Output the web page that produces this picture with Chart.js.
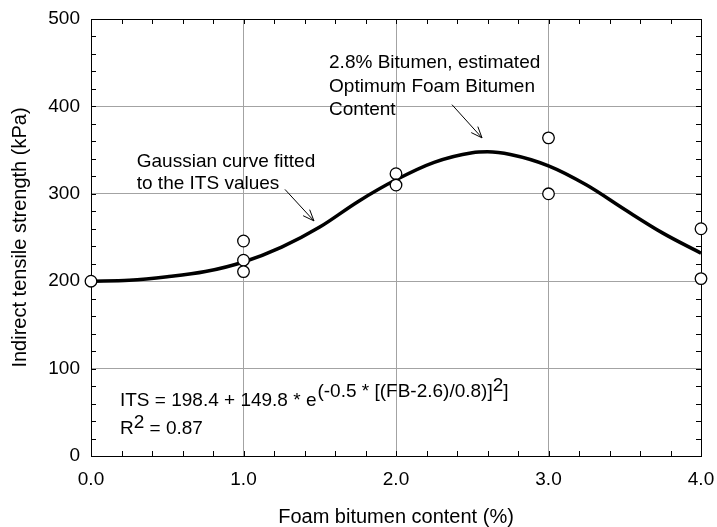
<!DOCTYPE html>
<html>
<head>
<meta charset="utf-8">
<script src="https://cdn.jsdelivr.net/npm/chart.js@4.4.0/dist/chart.umd.min.js"></script>
<style>
  body { margin: 0; background: #fff; }
  canvas { display: block; }
</style>
</head>
<body>
<canvas id="itsChart" width="717" height="527"></canvas>
<script>
// tick labels
var xTickLabels = ['0.0', '1.0', '2.0', '3.0', '4.0'];
var yTickLabels = ['0', '100', '200', '300', '400', '500'];

// measured ITS values (open circles)
var foamContent = [0, 1, 1, 1, 2, 2, 3, 3, 4, 4];
var itsValues = [200, 246, 224, 211, 323, 310, 364, 300, 260, 203];

// fitted gaussian curve
var curveX = [0, 0.25, 0.5, 0.75, 1.0, 1.25, 1.5, 1.75, 2.0, 2.25, 2.5, 2.6, 2.75, 3.0, 3.25, 3.5, 3.75, 4.0];
var curveY = [200, 201, 205, 211, 222, 239, 262, 291, 316, 336, 347, 348, 345, 332, 310, 282, 255, 232];

var fontFamily = '"Liberation Sans", Arial, sans-serif';
Chart.defaults.font.family = fontFamily;
Chart.defaults.color = '#000';

// frame on top/right plus small inward ticks on all four sides
var frameTicks = {
    id: 'frameTicks',
    beforeDatasetsDraw: function (chart) {
        var ctx = chart.ctx, a = chart.chartArea;
        var xs = chart.scales.x, ys = chart.scales.y;
        ctx.save();
        ctx.strokeStyle = '#000';
        ctx.lineWidth = 1;
        ctx.beginPath();
        for (var i = 0; i <= 20; i++) {
            var px = Math.round(xs.getPixelForValue(i * 0.2)) + 0.5;
            ctx.moveTo(px, a.bottom); ctx.lineTo(px, a.bottom - 5);
            ctx.moveTo(px, a.top); ctx.lineTo(px, a.top + 5);
        }
        for (var j = 0; j <= 25; j++) {
            var py = Math.round(ys.getPixelForValue(j * 20)) + 0.5;
            ctx.moveTo(a.left, py); ctx.lineTo(a.left + 5, py);
            ctx.moveTo(a.right, py); ctx.lineTo(a.right - 5, py);
        }
        ctx.moveTo(a.left, Math.round(a.top) + 0.5); ctx.lineTo(a.right, Math.round(a.top) + 0.5);
        ctx.moveTo(Math.round(a.right) + 0.5, a.top); ctx.lineTo(Math.round(a.right) + 0.5, a.bottom);
        ctx.stroke();
        ctx.restore();
    }
};

function arrow(ctx, x1, y1, x2, y2) {
    var ang = Math.atan2(y2 - y1, x2 - x1);
    var len = 12, spread = 0.38;
    ctx.beginPath();
    ctx.moveTo(x1, y1); ctx.lineTo(x2, y2);
    ctx.moveTo(x2 - len * Math.cos(ang - spread), y2 - len * Math.sin(ang - spread));
    ctx.lineTo(x2, y2);
    ctx.lineTo(x2 - len * Math.cos(ang + spread), y2 - len * Math.sin(ang + spread));
    ctx.stroke();
}

// annotations, placed in data units
var notes = {
    id: 'notes',
    afterDraw: function (chart) {
        var ctx = chart.ctx;
        var xs = chart.scales.x, ys = chart.scales.y;
        function X(v) { return xs.getPixelForValue(v); }
        function Y(v) { return ys.getPixelForValue(v); }
        ctx.save();
        ctx.fillStyle = '#000';
        ctx.strokeStyle = '#000';
        ctx.lineWidth = 1;
        ctx.font = '19px ' + fontFamily;
        ctx.textBaseline = 'alphabetic';
        ctx.textAlign = 'left';

        ctx.fillText('Gaussian curve fitted', X(0.30), Y(331));
        ctx.fillText('to the ITS values', X(0.30), Y(305));
        arrow(ctx, X(1.272), Y(305), X(1.462), Y(269));

        ctx.fillText('2.8% Bitumen, estimated', X(1.561), Y(444));
        ctx.fillText('Optimum Foam Bitumen', X(1.561), Y(417));
        ctx.fillText('Content', X(1.561), Y(390));
        arrow(ctx, X(2.367), Y(402), X(2.564), Y(364));

        // equation with superscripts
        var ex = X(0.19), base = Y(57);
        var main = 'ITS = 198.4 + 149.8 * e';
        ctx.fillText(main, ex, base);
        ex += ctx.measureText(main).width + 1;
        var sup = '(-0.5 * [(FB-2.6)/0.8)]';
        ctx.fillText(sup, ex, base - 9);
        ex += ctx.measureText(sup).width;
        ctx.fillText('2', ex, base - 15);
        ex += ctx.measureText('2').width;
        ctx.fillText(']', ex, base - 9);

        var rx = X(0.19), rBase = Y(25);
        ctx.fillText('R', rx, rBase);
        rx += ctx.measureText('R').width;
        ctx.fillText('2', rx, rBase - 6);
        rx += ctx.measureText('2').width;
        ctx.fillText(' = 0.87', rx, rBase);
        ctx.restore();
    }
};

var ctx = document.getElementById('itsChart').getContext('2d');

var pointData = foamContent.map(function (v, i) { return { x: v, y: itsValues[i] }; });
var curveData = curveX.map(function (v, i) { return { x: v, y: curveY[i] }; });

var chart = new Chart(ctx, {
    type: 'scatter',
    data: {
        datasets: [{
            label: 'ITS',
            data: pointData,
            pointStyle: 'circle',
            pointRadius: 5.8,
            pointBorderWidth: 1.3,
            pointBackgroundColor: '#fff',
            pointBorderColor: '#000',
            showLine: false,
            clip: false
        }, {
            type: 'line',
            label: 'Gaussian fit',
            data: curveData,
            borderColor: '#000',
            borderWidth: 3.5,
            pointRadius: 0,
            cubicInterpolationMode: 'monotone',
            fill: false,
            clip: false
        }]
    },
    options: {
        responsive: false,
        animation: false,
        layout: { padding: { left: 0, top: 19, right: 16, bottom: 0 } },
        plugins: {
            legend: { display: false },
            tooltip: { enabled: false }
        },
        scales: {
            x: {
                type: 'linear',
                min: 0,
                max: 4,
                afterFit: function (s) { s.height = 71; s.paddingLeft = 0; s.paddingRight = 0; },
                grid: { color: '#a3a3a3', lineWidth: 1, drawTicks: false },
                border: { color: '#000', width: 1 },
                ticks: {
                    stepSize: 1,
                    padding: 12,
                    font: { size: 19 },
                    callback: function (v) { return xTickLabels[v]; }
                },
                title: {
                    display: true,
                    text: 'Foam bitumen content (%)',
                    font: { size: 20, lineHeight: 1 },
                    padding: { top: 0, bottom: 0 }
                }
            },
            y: {
                type: 'linear',
                min: 0,
                max: 500,
                afterFit: function (s) { s.width = 91; s.paddingTop = 0; s.paddingBottom = 0; },
                grid: { color: '#a3a3a3', lineWidth: 1, drawTicks: false },
                border: { color: '#000', width: 1 },
                ticks: {
                    stepSize: 100,
                    padding: 11,
                    font: { size: 19 },
                    callback: function (v) { return yTickLabels[v / 100]; }
                },
                title: {
                    display: true,
                    text: 'Indirect tensile strength (kPa)',
                    font: { size: 20, lineHeight: 1 },
                    padding: { top: 10, bottom: 0 }
                }
            }
        }
    },
    plugins: [frameTicks, notes]
});
</script>
</body>
</html>
